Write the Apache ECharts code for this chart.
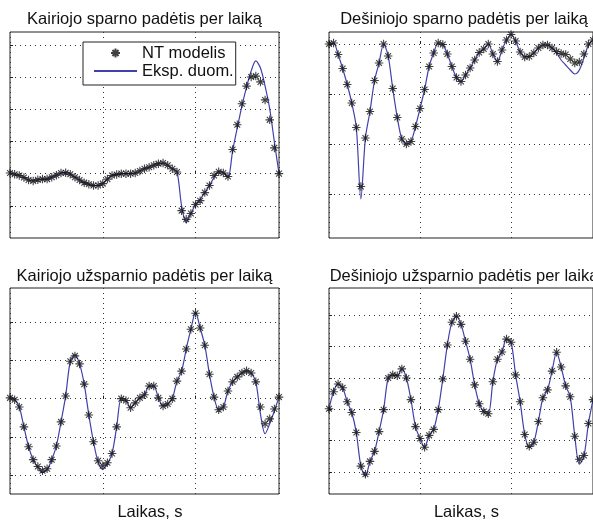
<!DOCTYPE html>
<html>
<head>
<meta charset="utf-8">
<script src="https://cdn.jsdelivr.net/npm/echarts@6/dist/echarts.min.js"></script>
<style>
html, body { margin: 0; padding: 0; background: #fff; }
#charts { width: 593px; height: 522px; }
</style>
</head>
<body>
<div id="charts"></div>
<script>
// laikas (x axis), same sampling for both series
var time = [0, 0.5, 1, 1.5, 2, 2.5, 3, 3.5, 4, 4.5, 5, 5.5, 6, 6.5, 7, 7.5, 8, 8.5, 9, 9.5,
    10, 10.5, 11, 11.5, 12, 12.5, 13, 13.5, 14, 14.5, 15, 15.5, 16, 16.5, 17, 17.5, 18, 18.5, 19, 19.5,
    20, 20.5, 21, 21.5, 22, 22.5, 23, 23.5, 24, 24.5, 25, 25.5, 26, 26.5, 27, 27.5, 28, 28.5, 29];

// Kairiojo sparno padetis
var kairSparnoExp = [0.02, -0.02, -0.06, -0.12, -0.2, -0.23, -0.19, -0.17, -0.17, -0.11,
    -0.05, 0.02, 0.03, -0.02, -0.11, -0.2, -0.28, -0.33, -0.37, -0.37,
    -0.31, -0.17, -0.06, -0.03, 0, 0, 0, 0.02, 0.08, 0.15,
    0.2, 0.26, 0.31, 0.33, 0.26, 0.15, 0.06, -1.0, -1.52, -1.24,
    -0.96, -0.8, -0.59, -0.37, -0.12, 0.06, 0.03, -0.12, 0.71, 1.42,
    2.1, 2.69, 3.19, 3.5, 3.28, 2.72, 2.01, 0.99, 0];
var kairSparnoNT = [0.02, -0.02, -0.06, -0.12, -0.2, -0.23, -0.19, -0.17, -0.17, -0.11,
    -0.05, 0.02, 0.03, -0.02, -0.11, -0.2, -0.28, -0.33, -0.37, -0.37,
    -0.31, -0.17, -0.06, -0.03, 0, 0, 0, 0.02, 0.08, 0.15,
    0.2, 0.26, 0.31, 0.33, 0.26, 0.15, 0.05, -1.15, -1.42, -1.24,
    -0.96, -0.84, -0.59, -0.37, -0.06, 0.06, 0.02, -0.09, 0.75, 1.52,
    2.17, 2.72, 3.0, 3.03, 2.85, 2.29, 1.67, 0.8, 0];

// Desiniojo sparno padetis
var desSparnoExp = [0.0, 0.02, -0.21, -0.49, -0.81, -1.18, -1.67, -3.1, -1.88, -1.35,
    -0.73, -0.38, 0.0, -0.24, -0.89, -1.47, -1.9, -2.0, -1.95, -1.65,
    -1.29, -0.91, -0.45, -0.18, 0.02, -0.01, -0.2, -0.45, -0.67, -0.75,
    -0.62, -0.48, -0.32, -0.17, -0.1, 0.0, -0.2, -0.35, -0.12, 0.08,
    0.19, 0.06, -0.16, -0.26, -0.25, -0.18, -0.08, -0.02, -0.02, -0.08,
    -0.18, -0.32, -0.42, -0.52, -0.6, -0.52, -0.28, -0.02, 0.08];
var desSparnoNT = [0.0, 0.02, -0.21, -0.49, -0.81, -1.18, -1.67, -2.85, -1.88, -1.35,
    -0.73, -0.38, 0.0, -0.24, -0.89, -1.47, -1.9, -2.0, -1.95, -1.65,
    -1.29, -0.91, -0.45, -0.18, 0.02, -0.01, -0.2, -0.45, -0.67, -0.75,
    -0.62, -0.48, -0.32, -0.17, -0.1, 0.0, -0.2, -0.35, -0.12, 0.08,
    0.19, 0.06, -0.16, -0.26, -0.25, -0.18, -0.08, -0.02, -0.02, -0.08,
    -0.15, -0.19, -0.21, -0.3, -0.38, -0.36, -0.2, 0.0, 0.08];

// Kairiojo uzsparnio padetis
var kairUzspExp = [0.02, -0.03, -0.22, -0.74, -1.26, -1.6, -1.8, -1.94, -1.86, -1.6,
    -1.24, -0.61, 0.07, 0.98, 1.15, 0.91, 0.38, -0.43, -1.13, -1.66,
    -1.85, -1.7, -1.44, -0.74, 0, -0.05, -0.24, -0.11, 0.02, 0.1,
    0.33, 0.33, 0.02, -0.19, -0.14, 0, 0.46, 0.72, 1.3, 1.82,
    2.26, 1.85, 1.4, 0.64, 0.04, -0.29, -0.22, 0.2, 0.44, 0.57,
    0.67, 0.73, 0.67, 0.44, -0.4, -0.92, -0.66, -0.32, 0.04];
var kairUzspNT = [0.02, -0.03, -0.22, -0.74, -1.26, -1.6, -1.78, -1.89, -1.84, -1.6,
    -1.24, -0.61, 0.07, 0.98, 1.12, 0.91, 0.38, -0.43, -1.13, -1.63,
    -1.76, -1.68, -1.44, -0.74, 0, -0.05, -0.24, -0.11, 0.02, 0.1,
    0.33, 0.33, 0.02, -0.19, -0.14, 0, 0.46, 0.72, 1.3, 1.82,
    2.24, 1.85, 1.4, 0.64, 0.04, -0.29, -0.22, 0.2, 0.44, 0.57,
    0.67, 0.73, 0.67, 0.44, -0.22, -0.66, -0.53, -0.27, 0.04];

// Desiniojo uzsparnio padetis
var desUzspExp = [0.02, 0.56, 0.81, 0.69, 0.24, -0.1, -0.74, -1.81, -2.13, -1.66,
    -1.34, -0.71, -0.01, 1.0, 1.1, 1.07, 1.29, 1.0, 0.31, -0.55,
    -0.93, -1.21, -0.83, -0.64, -0.01, 0.97, 2.05, 2.78, 2.97, 2.71,
    2.17, 1.6, 0.78, 0.18, -0.07, -0.14, 0.88, 1.6, 1.83, 2.24,
    2.14, 1.1, 0.24, -0.8, -1.22, -1.05, -0.39, 0.37, 0.62, 1.22,
    1.82, 1.35, 0.75, 0.4, -0.86, -1.75, -1.5, -0.45, 0.31];
var desUzspNT = [0.02, 0.56, 0.81, 0.69, 0.24, -0.1, -0.74, -1.81, -2.07, -1.66,
    -1.34, -0.71, -0.01, 1.0, 1.1, 1.07, 1.29, 1.0, 0.31, -0.55,
    -0.93, -1.21, -0.83, -0.64, -0.01, 0.97, 2.05, 2.78, 2.97, 2.71,
    2.17, 1.6, 0.78, 0.18, -0.07, -0.14, 0.88, 1.6, 1.83, 2.24,
    2.14, 1.1, 0.24, -0.8, -1.18, -1.05, -0.39, 0.37, 0.62, 1.22,
    1.82, 1.35, 0.75, 0.4, -0.86, -1.59, -1.47, -0.45, 0.31];

// grid lines (y) for each plot
var yTicksKS = [-1, 0, 1, 2, 3, 4];
var yTicksDS = [-3, -2, -1, 0];
var yTicksKU = [-2, -1, 0, 1, 2];
var yTicksDU = [-2, -1, 0, 1, 2, 3];

var FONT = '"Liberation Sans", Arial, sans-serif';
var BLUE = '#4141aa';
var STAR = 'path://M5,0 L5,10 M0,5 L10,5 M1.6,1.6 L8.4,8.4 M1.6,8.4 L8.4,1.6';

var panels = [
    { title: 'Kairiojo sparno padėtis per laiką', titleY: 19, box: { left: 10, top: 32, width: 269, height: 206 },
      yMin: -2, yMax: 4.4, ticks: yTicksKS, exp: kairSparnoExp, nt: kairSparnoNT, xName: '' },
    { title: 'Dešiniojo sparno padėtis per laiką', titleY: 19, box: { left: 329, top: 32, width: 270, height: 206 },
      yMin: -3.88, yMax: 0.24, ticks: yTicksDS, exp: desSparnoExp, nt: desSparnoNT, xName: '' },
    { title: 'Kairiojo užsparnio padėtis per laiką', titleY: 276, box: { left: 10, top: 288, width: 269, height: 207 },
      yMin: -2.5, yMax: 2.9, ticks: yTicksKU, exp: kairUzspExp, nt: kairUzspNT, xName: 'Laikas, s' },
    { title: 'Dešiniojo užsparnio padėtis per laiką', titleY: 276, box: { left: 329, top: 288, width: 270, height: 207 },
      yMin: -2.7, yMax: 3.87, ticks: yTicksDU, exp: desUzspExp, nt: desUzspNT, xName: 'Laikas, s' }
];

function pairs(xs, ys) {
    return ys.map(function (v, i) { return [xs[i], v]; });
}

var myChart = echarts.init(document.getElementById('charts'), null, { width: 593, height: 522 });

var series = [];
panels.forEach(function (p, i) {
    series.push({
        name: 'Eksp. duom.', type: 'line', xAxisIndex: i, yAxisIndex: i,
        data: pairs(time, p.exp), symbol: 'none', smooth: 0.3,
        lineStyle: { color: BLUE, width: 1.2 }, itemStyle: { color: BLUE }, z: 2
    });
    series.push({
        name: 'NT modelis', type: 'scatter', xAxisIndex: i, yAxisIndex: i,
        data: pairs(time, p.nt), symbol: STAR, symbolSize: 8.5, symbolKeepAspect: true,
        itemStyle: { color: '#111', borderColor: '#111', borderWidth: 1.1 }, z: 3
    });
});

var option = {
    animation: false,
    backgroundColor: '#fff',
    textStyle: { fontFamily: FONT },
    grid: panels.map(function (p) {
        return Object.assign({ show: true, borderColor: '#222', borderWidth: 1, backgroundColor: '#fff' }, p.box);
    }),
    xAxis: panels.map(function (p, i) {
        return {
            type: 'value', gridIndex: i, min: 0, max: 29, interval: 10,
            axisLine: { show: false }, axisLabel: { show: false },
            axisTick: { show: true, inside: true, length: 3, lineStyle: { color: '#222' } },
            splitLine: { show: true, lineStyle: { color: '#333', type: [1, 4], width: 1 } },
            name: p.xName, nameLocation: 'middle', nameGap: 10,
            nameTextStyle: { fontSize: 16.5, color: '#111', fontFamily: FONT, padding: [0, 0, 0, 11] }
        };
    }),
    yAxis: panels.map(function (p, i) {
        return {
            type: 'value', gridIndex: i, min: p.yMin, max: p.yMax,
            axisLine: { show: false },
            axisLabel: { show: false, customValues: p.ticks },
            axisTick: { show: true, inside: true, length: 3, customValues: p.ticks, lineStyle: { color: '#222' } },
            splitLine: { show: true, lineStyle: { color: '#333', type: [1, 4], width: 1 } }
        };
    }),
    legend: {
        left: 83, top: 42, orient: 'vertical',
        backgroundColor: '#fff', borderColor: '#222', borderWidth: 1, borderRadius: 0,
        padding: [2, 2, 5, 10], itemWidth: 43, itemHeight: 9, itemGap: 0,
        textStyle: { fontSize: 16.5, color: '#111', fontFamily: FONT, lineHeight: 18 },
        data: [
            { name: 'NT modelis' },
            { name: 'Eksp. duom.', itemStyle: { opacity: 0 } }
        ]
    },
    graphic: panels.map(function (p) {
        return {
            type: 'text', x: p.box.left + p.box.width / 2, y: p.titleY,
            style: { text: p.title, align: 'center', verticalAlign: 'middle', font: '16.5px ' + FONT, fill: '#111' }
        };
    }),
    series: series
};

myChart.setOption(option);
</script>
</body>
</html>
